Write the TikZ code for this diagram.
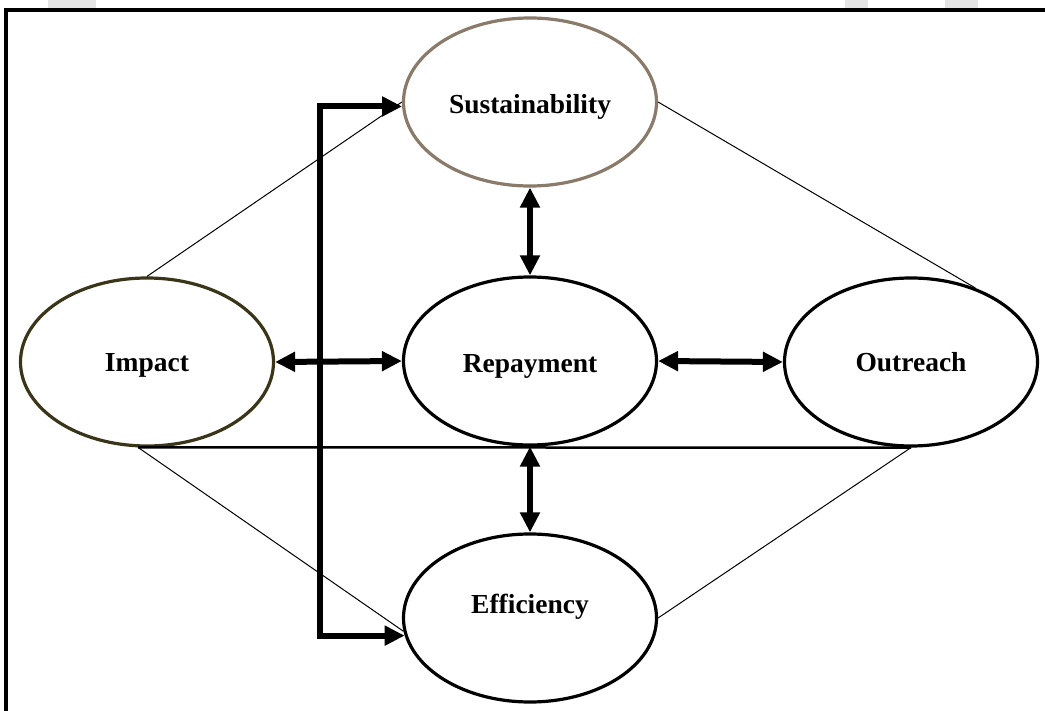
\documentclass[tikz,border=0pt]{standalone}
\usepackage{fontspec}
\setmainfont{Liberation Serif}
\usetikzlibrary{arrows.meta,shapes.geometric,calc}

\definecolor{susedge}{HTML}{8A7A6A}
\definecolor{impedge}{HTML}{3A3418}
\definecolor{wmark}{HTML}{E4E4E4}

\tikzset{
  oval/.style={ellipse, draw=black, line width=3.2pt, inner sep=0pt,
    minimum width=253pt, minimum height=168pt},
  lbl/.style={font=\fontsize{27.5}{30}\selectfont\bfseries, inner sep=0pt},
  twoway/.style={line width=6pt,
    {Triangle[length=20pt,width=19pt]}-{Triangle[length=20pt,width=19pt]}},
  fine/.style={line width=1pt},
  rule/.style={line width=2.5pt},
  frame/.style={line width=3.5pt}
}

\begin{document}
\begin{tikzpicture}[x=1pt,y=-1pt]
\useasboundingbox (0,0) rectangle (1045,711);

% faint marks above the frame
\fill[wmark] (48,0) rectangle (96,8);
\fill[wmark] (845,0) rectangle (868,8);
\fill[wmark] (945,0) rectangle (978,8);

% open frame: left and top edges only
\coordinate (fbl) at (6,711);
\coordinate (ftl) at (6,10);
\coordinate (ftr) at (1045,10);
\draw[frame] (fbl) -- (ftl) -- (ftr);

% the five measures
\node[oval, draw=susedge, label={[lbl,yshift=-5pt]center:Sustainability}] (sus) at (530,102) {};
\node[oval, label={[lbl,yshift=-5pt]center:Repayment}] (rep) at (530,361) {};
\node[oval, draw=impedge, label={[lbl,yshift=-3pt]center:Impact}] (imp) at (147,362) {};
\node[oval, label={[lbl]center:Outreach}] (out) at (911,362) {};
\node[oval, label={[lbl,yshift=11pt]center:Efficiency}] (eff) at (530,618) {};

% thin outline of the diamond
\draw[fine] (imp.north) -- (sus.west);
\draw[fine] (sus.east) -- (out.49);
\draw[fine] (imp.264) -- (eff.186);
\draw[fine] (eff.east) -- (out.south);

% base rule under Repayment
\draw[rule] (imp.264) -- (out.south);

% two-way links around Repayment
\draw[twoway] (sus.south) -- (rep.north);
\draw[twoway] (rep.south) -- (eff.north);
\draw[twoway] (imp.east) -- (rep.west);
\draw[twoway] (rep.east) -- (out.west);

% bracket feeding Sustainability and Efficiency
\coordinate (brk) at (320,0);
\draw[twoway] (sus.182) -- (sus.182 -| brk) -- (eff.188 -| brk) -- (eff.188);
\end{tikzpicture}
\end{document}
